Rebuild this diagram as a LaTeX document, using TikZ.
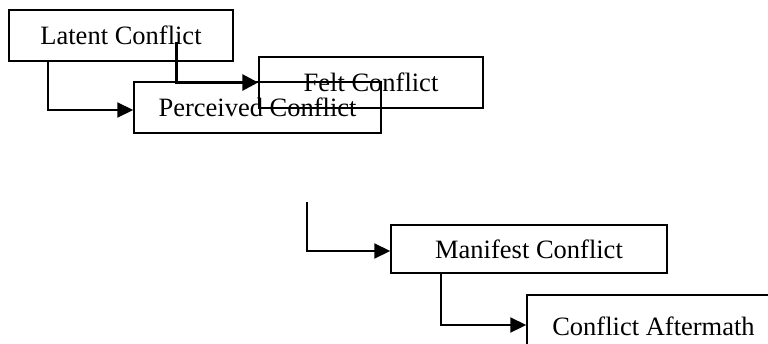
\documentclass[tikz,border=0pt]{standalone}
\usepackage{fontspec}
\setmainfont{Liberation Serif}
\usetikzlibrary{arrows.meta,calc}

\tikzset{
  stage/.style={draw=black, line width=1.5pt, inner sep=0pt, fill=none,
    font=\fontsize{26.5}{30}\selectfont},
  flow/.style={line width=2.2pt, -{Triangle[length=16pt,width=15pt]}},
  boldflow/.style={line width=3pt, -{Triangle[length=16pt,width=16pt]}}
}

\begin{document}
\begin{tikzpicture}[x=1pt, y=-1pt]
  \useasboundingbox (0,0) rectangle (768,343);
  \clip (0,0) rectangle (768,343);

  % stages of conflict
  \node[stage, minimum width=224pt, minimum height=51pt] (latent)    at (121,35.5)   {Latent Conflict};
  \node[stage, minimum width=224pt, minimum height=51pt] (felt)      at (371,82.5)   {Felt Conflict};
  \node[stage, minimum width=247pt, minimum height=51pt] (perceived) at (257.5,107.5) {Perceived Conflict};
  \node[stage, minimum width=276pt, minimum height=48pt] (manifest)  at (529,249)    {Manifest Conflict};
  \node[stage, minimum width=253pt, minimum height=62pt] (aftermath) at (653.5,326)  {Conflict Aftermath};

  % free start points of two connectors
  \coordinate (feltstart) at (176,42);
  \coordinate (manstart)  at (307,202);

  % connectors
  \draw[flow] ($(latent.south west)+(40,0)$) |- ($(perceived.west)+(0,2.5)$);
  \draw[boldflow] (feltstart) |- (felt.west);
  \draw[flow] (manstart) |- ($(manifest.west)+(0,2)$);
  \draw[flow] ($(manifest.south west)+(51,0)$) |- ($(aftermath.west)+(0,-1)$);
\end{tikzpicture}
\end{document}
